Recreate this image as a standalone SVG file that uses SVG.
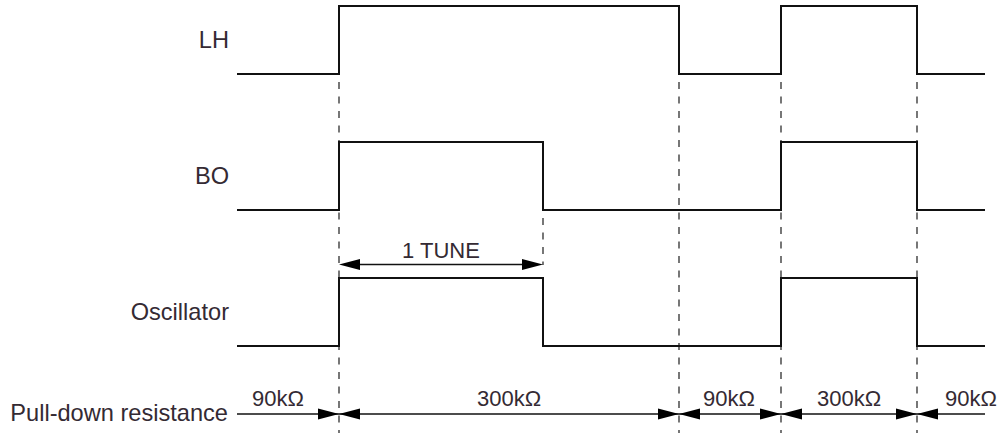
<svg xmlns="http://www.w3.org/2000/svg" width="1002" height="433" viewBox="0 0 1002 433">
<style>
.lbl{font-family:"Liberation Sans",Arial,sans-serif;font-size:22px;fill:#342a33}
.big{font-size:23.6px}
.sig{fill:none;stroke:#111;stroke-width:2;stroke-linejoin:miter}
.dash{stroke:#555;stroke-width:1.6;stroke-dasharray:7 7.5;fill:none}
.dim{stroke:#111;stroke-width:1.3;fill:none}
.ah{fill:#000}
</style>
<rect width="1002" height="433" fill="#fff"/>
<g id="guides">
<path class="dash" d="M339,82V433M679,82V433M781,82V433M917,82V433M543,218V265"/>
</g>
<g id="LH">
<text class="lbl big" x="229" y="48" text-anchor="end">LH</text>
<path class="sig" d="M237,74H339V6H679V74H781V6H917V74H985"/>
</g>
<g id="BO">
<text class="lbl big" x="229" y="184" text-anchor="end">BO</text>
<path class="sig" d="M237,210H339V142H543V210H781V142H917V210H985"/>
</g>
<g id="Oscillator">
<text class="lbl big" x="229" y="320" text-anchor="end">Oscillator</text>
<path class="sig" d="M237,346H339V278H543V346H781V278H917V346H985"/>
</g>
<g id="tune">
<path class="dim" d="M355,264.5H528"/>
<polygon class="ah" points="339,264.5 360,259 360,270"/>
<polygon class="ah" points="543,264.5 522,259 522,270"/>
<text class="lbl" x="441" y="258" text-anchor="middle">1 TUNE</text>
</g>
<g id="pulldown">
<text class="lbl big" x="228" y="421" text-anchor="end">Pull-down resistance</text>
<path class="dim" d="M237,414H985"/>
<polygon class="ah" points="339,414 318,408.5 318,419.5"/>
<polygon class="ah" points="339,414 360,408.5 360,419.5"/>
<polygon class="ah" points="679,414 658,408.5 658,419.5"/>
<polygon class="ah" points="679,414 700,408.5 700,419.5"/>
<polygon class="ah" points="781,414 760,408.5 760,419.5"/>
<polygon class="ah" points="781,414 802,408.5 802,419.5"/>
<polygon class="ah" points="917,414 896,408.5 896,419.5"/>
<polygon class="ah" points="917,414 938,408.5 938,419.5"/>
<text class="lbl" x="278" y="406" text-anchor="middle">90kΩ</text>
<text class="lbl" x="509" y="406" text-anchor="middle">300kΩ</text>
<text class="lbl" x="729" y="406" text-anchor="middle">90kΩ</text>
<text class="lbl" x="849" y="406" text-anchor="middle">300kΩ</text>
<text class="lbl" x="971" y="406" text-anchor="middle">90kΩ</text>
</g>
</svg>
